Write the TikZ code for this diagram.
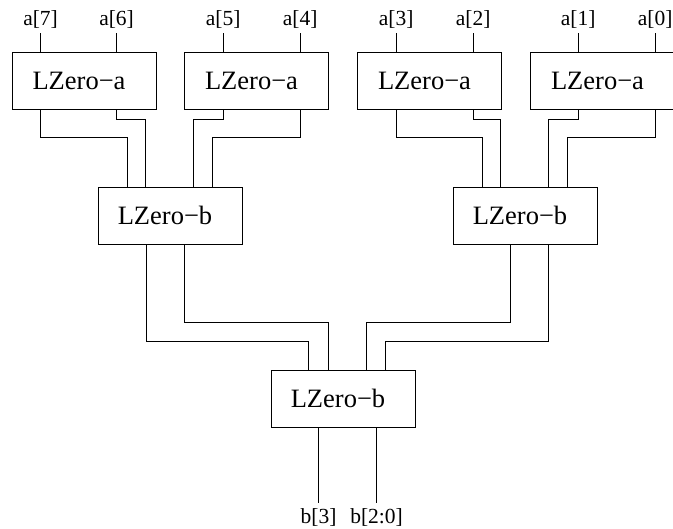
\documentclass[tikz,border=0pt]{standalone}
\usepackage{fontspec}
\setmainfont{Liberation Serif}
\usetikzlibrary{calc}
\begin{document}
\begin{tikzpicture}[x=1pt,y=-1pt,line width=0.8pt,
  blk/.style={draw,rectangle,minimum width=144pt,minimum height=57pt,inner sep=0pt,
              font=\fontsize{26.5}{30}\selectfont},
  pin/.style={inner sep=4pt,font=\fontsize{21.5}{24}\selectfont}]
\useasboundingbox (0,0) rectangle (673,529);

% first level
\node[blk] (a1) at (84,81)    {LZero−a\kern10pt};
\node[blk] (a2) at (256.5,81) {LZero−a\kern10pt};
\node[blk] (a3) at (429.5,81) {LZero−a\kern10pt};
\node[blk] (a4) at (602.5,81) {LZero−a\kern10pt};
% second level
\node[blk] (b1) at (170,215.5) {LZero−b\kern10pt};
\node[blk] (b2) at (525,215.5) {LZero−b\kern10pt};
% last level
\node[blk] (c)  at (343,398.5) {LZero−b\kern10pt};

% inputs
\foreach \k/\bx/\dx in {7/a1/29,6/a1/105,5/a2/39,4/a2/116,3/a3/39,2/a3/116,1/a4/48,0/a4/125}{
  \node[pin,anchor=south] (in\k) at ([xshift=\dx pt,yshift=19pt]\bx.north west) {a[\k]};
  \draw (in\k.south) -- (in\k.south |- \bx.north);
}

% first level to second level
\draw (in7 |- a1.south) -- ++(0,28) -| ([xshift=30pt]b1.north west);
\draw (in6 |- a1.south) -- ++(0,10) -| ([xshift=48pt]b1.north west);
\draw (in5 |- a2.south) -- ++(0,10) -| ([xshift=96pt]b1.north west);
\draw (in4 |- a2.south) -- ++(0,28) -| ([xshift=115pt]b1.north west);
\draw (in3 |- a3.south) -- ++(0,28) -| ([xshift=30pt]b2.north west);
\draw (in2 |- a3.south) -- ++(0,10) -| ([xshift=48pt]b2.north west);
\draw (in1 |- a4.south) -- ++(0,10) -| ([xshift=96pt]b2.north west);
\draw (in0 |- a4.south) -- ++(0,28) -| ([xshift=115pt]b2.north west);

% second level to last level
\draw ([xshift=49pt]b1.south west) -- ++(0,97) -| ([xshift=38pt]c.north west);
\draw ([xshift=87pt]b1.south west) -- ++(0,78) -| ([xshift=58pt]c.north west);
\draw ([xshift=58pt]b2.south west) -- ++(0,78) -| ([xshift=96pt]c.north west);
\draw ([xshift=96pt]b2.south west) -- ++(0,97) -| ([xshift=115pt]c.north west);

% outputs
\coordinate (o3) at ([xshift=48pt,yshift=-76pt]c.south west);
\coordinate (o2) at ([xshift=106pt,yshift=-76pt]c.south west);
\draw (o3 |- c.south) -- (o3);
\draw (o2 |- c.south) -- (o2);
\node[pin,anchor=north,inner sep=5pt] (b3) at (o3) {b[3]};
\node[pin,anchor=north,inner sep=5pt] (b20) at (o2) {b[2:0]};
\end{tikzpicture}
\end{document}
